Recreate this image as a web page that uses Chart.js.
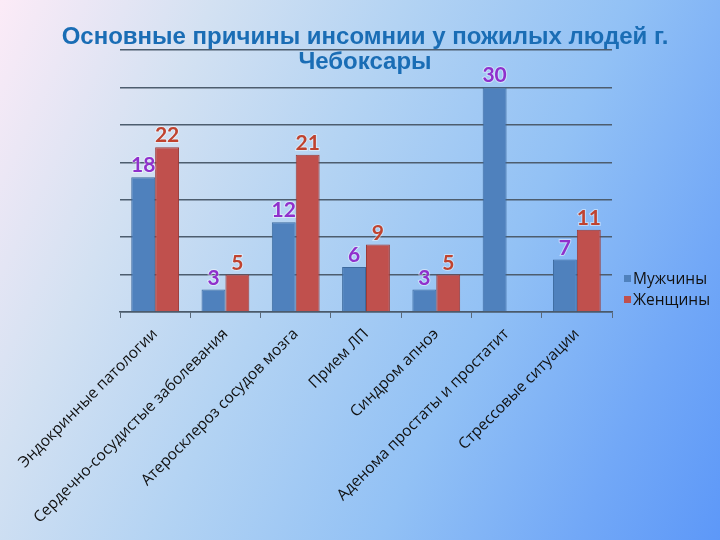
<!DOCTYPE html>
<html><head><meta charset="utf-8">
<script src="https://cdn.jsdelivr.net/npm/chart.js@4/dist/chart.umd.min.js"></script>
<style>
html,body{margin:0;padding:0;width:720px;height:540px;overflow:hidden;}
body{background:linear-gradient(115deg,#fcebf7 0%,#d3e1f2 22%,#b3d3f3 42%,#92c1f5 65%,#72a8f7 85%,#5d98f8 100%);}
#wrap{position:relative;width:720px;height:540px;}
canvas{display:block;position:absolute;left:0;top:0;}
#title{position:absolute;left:0;top:23px;width:730px;text-align:center;font-family:"Liberation Sans",Arial,sans-serif;font-weight:bold;font-size:24px;line-height:25px;color:#1a6db5;white-space:nowrap;}
#legend{position:absolute;left:624px;top:268px;font-family:"Open Sans",sans-serif;font-size:15.5px;color:#111;line-height:21px;}
#legend .it{white-space:nowrap;}
#legend .sw{display:inline-block;width:7px;height:7px;margin-right:2px;vertical-align:middle;position:relative;top:-1px;}
</style></head><body>
<div id="wrap"><canvas id="c" width="720" height="540"></canvas><div id="title"></div><div id="legend"></div></div>
<script>
const categories = [
  'Эндокринные патологии',
  'Сердечно-сосудистые заболевания',
  'Атеросклероз сосудов мозга',
  'Прием ЛП',
  'Синдром апноэ',
  'Аденома простаты и простатит',
  'Стрессовые ситуации'
];
const seriesNames = ['Мужчины', 'Женщины'];
const men = [18, 3, 12, 6, 3, 30, 7];
const women = [22, 5, 21, 9, 5, null, 11];
const titleLines = ['Основные причины инсомнии у пожилых людей г.', 'Чебоксары'];

const barColors = ['#4f81bd', '#c0504d'];
const barBorders = ['#3d6a9e', '#9c3b38'];
const labelColors = ['#9030cc', '#c0432f'];

const titleEl = document.getElementById('title');
titleLines.forEach(t => {
  const d = document.createElement('div');
  d.textContent = t;
  titleEl.appendChild(d);
});

const legendEl = document.getElementById('legend');
seriesNames.forEach((n, i) => {
  const d = document.createElement('div');
  d.className = 'it';
  const s = document.createElement('span');
  s.className = 'sw';
  s.style.background = barColors[i];
  d.appendChild(s);
  d.appendChild(document.createTextNode(n));
  legendEl.appendChild(d);
});

const valueLabels = {
  id: 'valueLabels',
  afterDatasetsDraw(chart) {
    const ctx = chart.ctx;
    chart.data.datasets.forEach((ds, i) => {
      const meta = chart.getDatasetMeta(i);
      meta.data.forEach((bar, j) => {
        const v = ds.data[j];
        if (v == null) return;
        ctx.save();
        ctx.font = 'bold 21px Lato, "Open Sans", sans-serif';
        ctx.textAlign = 'center';
        ctx.textBaseline = 'alphabetic';
        ctx.lineWidth = 2;
        ctx.strokeStyle = 'rgba(255,255,255,0.45)';
        ctx.strokeText(String(v), bar.x, bar.y - 5);
        ctx.fillStyle = labelColors[i];
        ctx.fillText(String(v), bar.x, bar.y - 5);
        ctx.restore();
      });
    });
  }
};

new Chart(document.getElementById('c'), {
  type: 'bar',
  data: {
    labels: categories,
    datasets: [
      { label: seriesNames[0], data: men, backgroundColor: barColors[0], borderColor: barBorders[0], borderWidth: 1, barPercentage: 1, categoryPercentage: 0.68 },
      { label: seriesNames[1], data: women, backgroundColor: barColors[1], borderColor: barBorders[1], borderWidth: 1, barPercentage: 1, categoryPercentage: 0.68 }
    ]
  },
  options: {
    responsive: false,
    devicePixelRatio: 1,
    animation: false,
    layout: { padding: { left: 120, right: 108, top: 50, bottom: 6 } },
    plugins: {
      title: { display: false },
      legend: { display: false },
      tooltip: { enabled: false }
    },
    scales: {
      x: {
        grid: { display: true, drawOnChartArea: false, drawTicks: true, tickLength: 6, color: '#5a6878', lineWidth: 1 },
        border: { display: true, color: '#4a5a6a', width: 1.5 },
        ticks: { color: '#111', minRotation: 45, maxRotation: 45, padding: 7, font: { family: '"Open Sans", sans-serif', size: 15.5 } }
      },
      y: {
        min: 0, max: 35,
        ticks: { display: false, stepSize: 5 },
        grid: { color: '#4d5d6e', lineWidth: 1.5, drawTicks: false },
        border: { display: false }
      }
    }
  },
  plugins: [valueLabels]
});
</script>
</body></html>
